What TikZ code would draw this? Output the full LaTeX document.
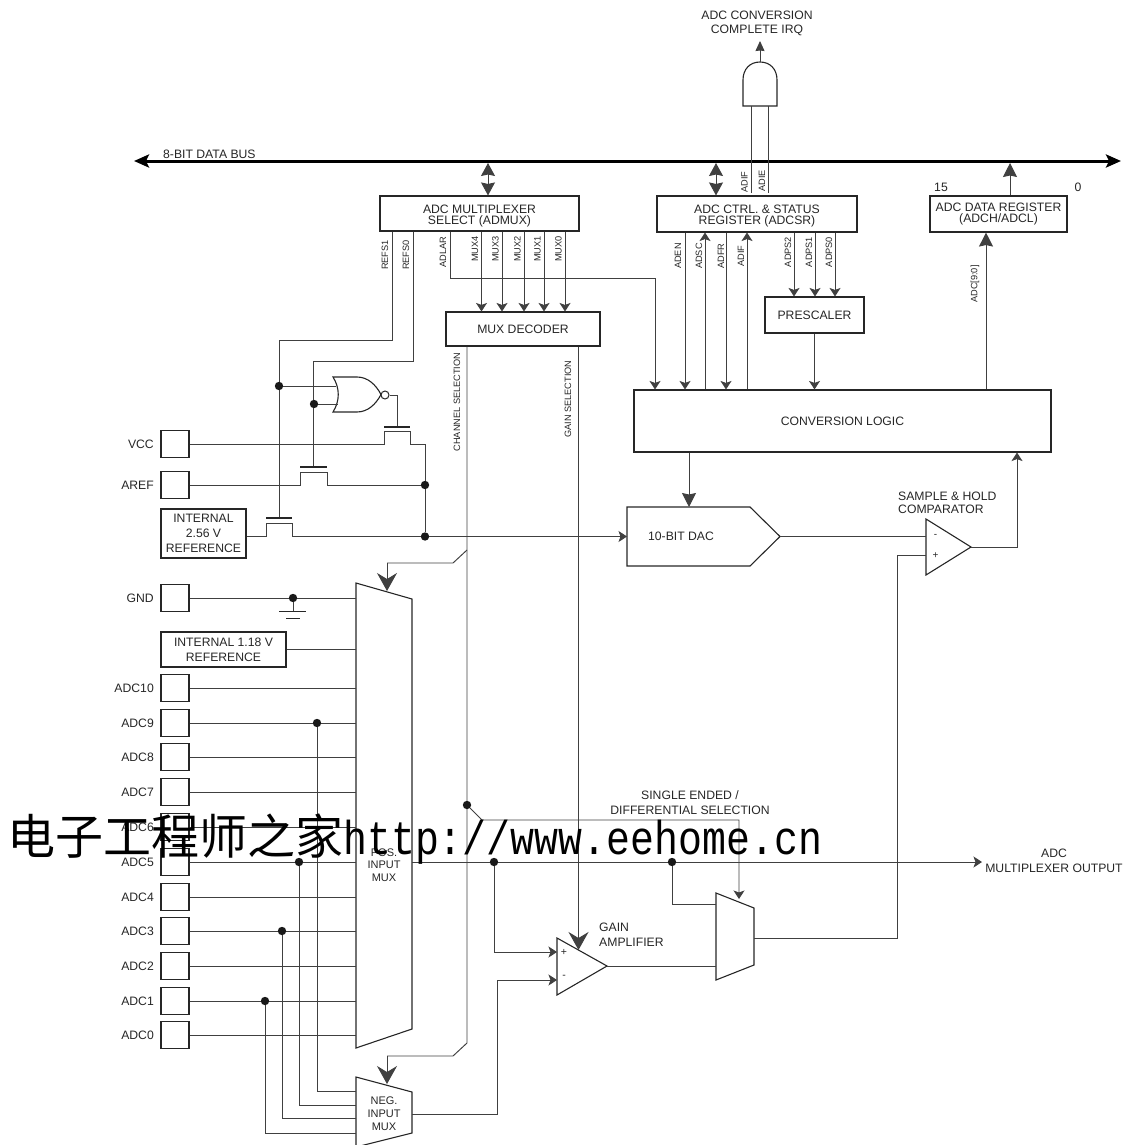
\documentclass[tikz,border=0pt]{standalone}
\usepackage{fontspec}
\usetikzlibrary{arrows.meta,calc}
\setmainfont{Liberation Sans}
\newfontfamily\cjkwm{Noto Sans CJK SC}
\newfontfamily\monowm[FakeStretch=0.84]{Liberation Mono}
\definecolor{ink}{gray}{0.15}
\definecolor{wire}{gray}{0.25}
\tikzset{
  wr/.style={draw=wire,line width=0.95pt},
  sarr/.style={wr,-{Stealth[length=8.5pt,width=11pt,inset=2pt]}},
  barr/.style={wr,-{Stealth[length=18pt,width=20pt,inset=6pt]}},
  marr/.style={wr,-{Stealth[length=14pt,width=14pt,inset=1.5pt]}},
  dblarr/.style={wr,{Stealth[length=13pt,width=14pt,inset=1.5pt]}-{Stealth[length=13pt,width=14pt,inset=1.5pt]}},
  shp/.style={draw=ink,line width=1.1pt,line join=miter},
  box/.style={draw=ink,line width=1.1pt,rectangle,inner sep=0pt,align=center,text=ink,font=\fontsize{12.2}{15}\selectfont},
  tight/.style={font=\fontsize{12.2}{11}\selectfont},
  pad/.style={draw=ink,line width=1.1pt,rectangle,inner sep=0pt,minimum width=28pt,minimum height=27pt},
  lab/.style={inner sep=0pt,text=ink,align=center,font=\fontsize{12.2}{15}\selectfont},
  sig/.style={inner sep=0pt,text=ink,rotate=90,font=\fontsize{9.2}{10}\selectfont},
  dot/.style={circle,fill=black!90,inner sep=0pt,minimum size=8.4pt},
}
\begin{document}
\begin{tikzpicture}[x=1pt,y=-1pt]
\useasboundingbox (0,0) rectangle (1137,1145);
% boxes
\node[box,minimum width=199pt,minimum height=35pt] (admux) at (479.5,213.5) {};
\node[lab,tight] (ladmux) at (479.5,216) {ADC MULTIPLEXER\\SELECT (ADMUX)};
\node[box,minimum width=200pt,minimum height=36pt] (adcsr) at (757,214) {};
\node[lab,tight] (ladcsr) at (757,216.5) {ADC CTRL. \& STATUS\\REGISTER (ADCSR)};
\node[box,tight,minimum width=137pt,minimum height=36pt] (dreg) at (998.5,214) {ADC DATA REGISTER\\(ADCH/ADCL)};
\node[box,minimum width=154pt,minimum height=34pt] (dec) at (523,329) {MUX DECODER};
\node[box,minimum width=99pt,minimum height=36pt] (pres) at (814.5,315) {PRESCALER};
\node[box,minimum width=417pt,minimum height=62pt] (logic) at (842.5,421) {CONVERSION LOGIC};
\node[box,minimum width=85pt,minimum height=49pt] (ref256) at (203.5,533.5) {INTERNAL\\2.56 V\\REFERENCE};
\node[box,minimum width=125pt,minimum height=35pt] (ref118) at (223.5,649.5) {INTERNAL 1.18 V\\REFERENCE};
\node[pad] (vcc) at (175,444) {};
\node[pad] (aref) at (175,485) {};
\node[pad] (gnd) at (175,598) {};
\foreach \n/\y in {10/688,9/723,8/757,7/792,6/827,5/862,4/897,3/931,2/966,1/1001,0/1035}{
  \node[pad] (adc\n) at (175,\y) {};
  \node[lab,anchor=east] (adcl\n) at (154,\y) {ADC\n};
}
\node[lab,anchor=east] (lvcc) at (154,444) {VCC};
\node[lab,anchor=east] (laref) at (154,485) {AREF};
\node[lab,anchor=east] (lgnd) at (154,598) {GND};
% drawn shapes
\draw[shp] (356,583) -- (412,599) -- (412,1029) -- (356,1048) -- cycle;
\draw[shp] (356,1077) -- (412,1092) -- (412,1133) -- (356,1147) -- cycle;
\draw[shp] (627,507) -- (750,507) -- (780,536.5) -- (750,566) -- (627,566) -- cycle;
\draw[shp] (926,519) -- (971,547) -- (926,575) -- cycle;
\draw[shp] (557,938) -- (607,966) -- (557,995) -- cycle;
\draw[shp] (716,893) -- (754,908) -- (754,965) -- (716,980) -- cycle;
\draw[shp] (743,106) -- (743,80) .. controls (743,69) and (750,62) .. (760,62) .. controls (770,62) and (777,69) .. (777,80) -- (777,106) -- cycle;
\draw[shp] (333,377) -- (357,377) .. controls (368,377) and (376,385) .. (381,394.5) .. controls (376,404) and (368,412) .. (357,412) -- (333,412) .. controls (340,401) and (340,388) .. (333,377) -- cycle;
\node[circle,draw=ink,fill=white,line width=1pt,inner sep=0pt,minimum size=8pt] (bub) at (385,395) {};
% named points
\coordinate (pml) at (356,0);
\coordinate (nmTop) at (387,1084);
\coordinate (pmTop) at (387,591);
\coordinate (busL) at (134,161);
\coordinate (busR) at (1121,161);
\coordinate (dac) at (627,536.5);
\coordinate (dacout) at (780,536.5);
\coordinate (cmpm) at (926,536.5);
\coordinate (cmpp) at (926,555);
\coordinate (cmpo) at (971,547);
\coordinate (ampp) at (557,952);
\coordinate (ampm) at (557,980);
\coordinate (ampo) at (607,966);
\coordinate (mxa) at (716,904);
\coordinate (mxb) at (716,966);
\coordinate (mxo) at (754,938);
\coordinate (nmo) at (412,1114);
\coordinate (outEnd) at (982,862);
\coordinate (andO) at (760,62);
\coordinate (andTip) at (760,41);
% bus
\draw[draw=black,line width=3pt,{Stealth[length=15pt,width=13pt,inset=3pt]}-{Stealth[length=15pt,width=13pt,inset=3pt]}] (busL) -- (busR);
\node[lab,anchor=west] (lbus) at (163,154) {8-BIT DATA BUS};
% bus links
\foreach \nm/\x/\b in {a/488/admux,b/716/adcsr}{
  \draw[dblarr] (\x,163) -- (\b.north -| {\x,0});
}
\draw[marr] (dreg.north -| {1010,0}) -- (1010,163);
\node[lab] (l15) at (941,187) {15};
\node[lab] (l0) at (1078,187) {0};
% and gate
\draw[wr,-{Stealth[length=10pt,width=9pt,inset=0.5pt]}] (andO) -- (andTip);
\draw[wr] (751,193) -- (751,106);
\draw[wr] (768,193) -- (768,106);
\node[sig] (sadif) at (744.5,182) {ADIF};
\node[sig] (sadie) at (762,181) {ADIE};
\node[lab,font=\fontsize{12.2}{14}\selectfont] (lirq) at (757,23) {ADC CONVERSION\\COMPLETE IRQ};
% admux signals
\coordinate (c1) at (392,340); \coordinate (c2) at (279,340);
\coordinate (g3) at (279,518);
\coordinate (d1) at (413,361); \coordinate (d2) at (313.5,361);
\coordinate (g2) at (313.5,467);
\draw[wr] (admux.south -| c1) -- (c1) -- (c2) -- (g3);
\draw[wr] (admux.south -| d1) -- (d1) -- (d2) -- (g2);
\coordinate (al) at (450,278); \coordinate (al2) at (655,278);
\draw[sarr] (admux.south -| al) -- (al) -- (al2) -- (logic.north -| al2);
\foreach \n/\x/\l in {4/481.5/MUX4,3/502/MUX3,2/524/MUX2,1/544/MUX1,0/565/MUX0}{
  \draw[sarr] (admux.south -| {\x,0}) -- (dec.north -| {\x,0});
  \node[sig] (smx\n) at (\x-6.5,249) {\l};
}
\node[sig] (srefs1) at (385,255) {REFS1};
\node[sig] (srefs0) at (406,255) {REFS0};
\node[sig] (sadlar) at (443,252) {ADLAR};
% adcsr signals
\draw[sarr] (adcsr.south -| {685,0}) -- (logic.north -| {685,0});
\draw[sarr] (logic.north -| {705,0}) -- (adcsr.south -| {705,0});
\draw[sarr] (adcsr.south -| {726,0}) -- (logic.north -| {726,0});
\draw[sarr] (logic.north -| {747,0}) -- (adcsr.south -| {747,0});
\foreach \x/\l in {678/ADEN,699/ADSC,721/ADFR,741/ADIF}{
  \node[sig] (s\l) at (\x,256) {\l};
}
\foreach \x/\tx/\l in {794/788/ADPS2,815/809/ADPS1,835/829/ADPS0}{
  \draw[sarr] (adcsr.south -| {\x,0}) -- (pres.north -| {\x,0});
  \node[sig] (s\l) at (\tx,252) {\l};
}
\draw[sarr] (pres.south) -- (logic.north -| pres.south);
\draw[marr] (logic.north -| {986,0}) -- (dreg.south -| {986,0});
\node[sig] (sadc) at (975,284) {ADC[9:0]};
% NOR / FET network
\node[dot] (j1) at (279,386) {};
\node[dot] (j2) at (314,404) {};
\draw[wr] (j1) -- (336,386);
\draw[wr] (j2) -- (338,404);
\coordinate (g1) at (397,426);
\draw[wr] (bub.east) -- (g1 |- bub.east) -- (g1);
\draw[wr,draw=ink,line width=1.1pt] (384,427) -- (410,427);
\draw[wr,draw=ink,line width=1.1pt] (300,467) -- (327,467);
\draw[wr,draw=ink,line width=1.1pt] (266,518) -- (292,518);
\node[dot] (j3) at (425,485) {};
\node[dot] (j4) at (425,536.5) {};
\coordinate (vtop) at (425,444);
\draw[wr] (vcc.east) -- (384,444) -- (384,431) -- (410,431) -- (410,444) -- (vtop) -- (j3) -- (j4);
\draw[wr] (aref.east) -- (300,485) -- (300,472) -- (327,472) -- (327,485) -- (j3);
\draw[wr] (ref256.east |- j4) -- (266,536.5) -- (266,523) -- (292,523) -- (292,536.5) -- (j4);
\draw[sarr] (j4) -- (dac);
% logic to DAC etc.
\draw[marr] (logic.south -| {689,0}) -- (689,507);
\node[lab] (ldac) at (681,536.5) {10-BIT DAC};
\draw[wr] (dacout) -- (cmpm);
\node[lab,anchor=west,font=\fontsize{12.2}{13.5}\selectfont,align=left] (lsh) at (898,503) {SAMPLE \& HOLD\\COMPARATOR};
\node[lab,font=\fontsize{10}{10}\selectfont] (lcm) at (935.5,536) {-};
\node[lab,font=\fontsize{10}{10}\selectfont] (lcp) at (935.5,556) {+};
\draw[sarr] (cmpo) -- (1017,547) -- (logic.south -| {1017,0});
\draw[wr] (mxo) -- (897,938) -- (897,555) -- (cmpp);
% selection lines
\coordinate (sw1) at (467,550); \coordinate (sw2) at (453,563); \coordinate (sw3) at (387,563);
\coordinate (csb) at (467,1043); \coordinate (csc) at (453,1056); \coordinate (csd) at (387,1056);
\draw[wr] (dec.south -| csb) -- (csb) -- (csc) -- (csd);
\draw[barr] (csd) -- (nmTop);
\draw[wr] (sw1) -- (sw2) -- (sw3);
\draw[barr] (sw3) -- (pmTop);
\node[sig] (scs) at (457,402) {CHANNEL SELECTION};
\node[sig] (sgs) at (568,399) {GAIN SELECTION};
\draw[barr] (dec.south -| {578.5,0}) -- (578.5,950);
\node[dot] (j5) at (467,805) {};
\coordinate (se1) at (482,820); \coordinate (se2) at (739,820);
\draw[sarr] (j5) -- (se1) -- (se2) -- (739,899);
% ground
\node[dot] (jg) at (293,598) {};
\coordinate (gnda) at (293,611);
\draw[wr] (gnd.east) -- (jg) -- (jg -| pml);
\draw[wr] (jg) -- (gnda);
\draw[wr,draw=ink] (279,611) -- (306,611);
\draw[wr,draw=ink] (286,618) -- (300,618);
\draw[wr] (ref118.east) -- (ref118.east -| pml);
% ADC inputs
\foreach \n in {10,9,8,7,6,5,4,3,2,1,0}{ \draw[wr] (adc\n.east) -- (adc\n.east -| pml); }
\node[dot] (j9) at (317,723) {};
\node[dot] (j55) at (299,862) {};
\node[dot] (j33) at (282,931) {};
\node[dot] (j11) at (265,1001) {};
\draw[wr] (j9) -- (317,1091) -- (356,1091);
\draw[wr] (j55) -- (299,1105) -- (356,1105);
\draw[wr] (j33) -- (282,1118) -- (356,1118);
\draw[wr] (j11) -- (265,1133) -- (356,1133);
% output
\node[dot] (j6) at (494,862) {};
\node[dot] (j7) at (672,862) {};
\coordinate (mo) at (412,862);
\draw[sarr] (mo) -- (j6) -- (j7) -- (outEnd);
\draw[sarr] (j6) -- (494,952) -- (ampp);
\draw[wr] (j7) -- (672,904) -- (mxa);
\draw[wr] (ampo) -- (mxb);
\draw[sarr] (nmo) -- (497,1114) -- (497,980) -- (ampm);
\node[lab,font=\fontsize{10.5}{10}\selectfont] (lap) at (564,952) {+};
\node[lab,font=\fontsize{10.5}{10}\selectfont] (lam) at (564,977) {-};
\node[lab,anchor=west,align=left] (lgain) at (599,935) {GAIN\\AMPLIFIER};
\node[lab] (lse) at (690,803) {SINGLE ENDED /\\DIFFERENTIAL SELECTION};
\node[lab] (lout) at (1054,861) {ADC\\MULTIPLEXER OUTPUT};
\node[lab,font=\fontsize{11}{12.7}\selectfont] (lpos) at (384,865) {POS.\\INPUT\\MUX};
\node[lab,font=\fontsize{11}{13}\selectfont] (lneg) at (384,1114) {NEG.\\INPUT\\MUX};
% watermark
\node[anchor=base west,inner sep=0pt,text=black] (wm) at (7,854) {\cjkwm\fontsize{48}{50}\selectfont 电子工程师之家\monowm\fontsize{47.5}{50}\selectfont http://www.eehome.cn};
\end{tikzpicture}
\end{document}
